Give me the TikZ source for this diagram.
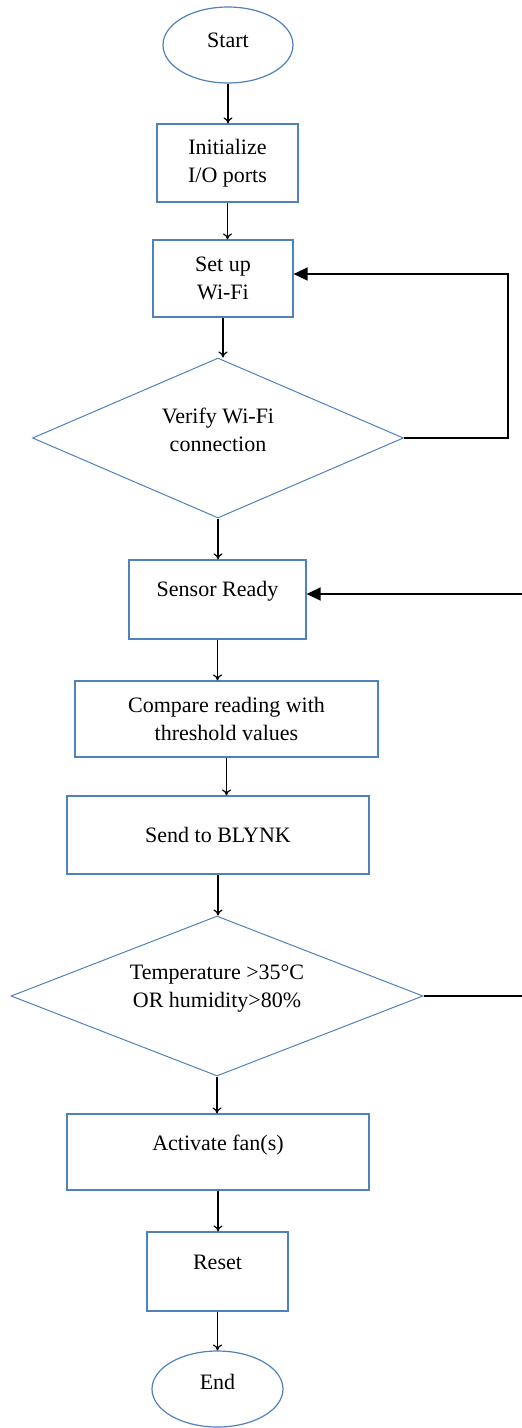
\documentclass[tikz,border=0pt]{standalone}
\usepackage{fontspec}
\setmainfont{Liberation Serif}
\usetikzlibrary{shapes.geometric,arrows.meta}
\definecolor{wordblue}{RGB}{79,129,189}

\begin{document}
\begin{tikzpicture}[x=1pt,y=-1pt,
    every node/.style={font=\fontsize{22}{28}\selectfont, align=center, inner sep=0pt},
    term/.style={ellipse, draw=wordblue, line width=1.2pt, minimum width=130pt, minimum height=76pt},
    proc/.style={rectangle, draw=wordblue, line width=1.2pt, minimum height=78pt},
    deci/.style={diamond, draw=wordblue, line width=1pt, minimum height=160pt},
    flow/.style={black, line width=1.2pt, -{To[length=6pt,width=9pt]}},
    back/.style={black, line width=1.5pt, -{Triangle[length=14pt,width=13pt]}}]
  \useasboundingbox (0,0) rectangle (522,1428);
  \clip (0,0) rectangle (522,1428);

  % main column
  \node[term, text depth=10pt] (start) at (228,45) {Start};
  \node[proc, minimum width=141pt] (init) at (227.5,163) {Initialize\\I/O ports};
  \node[proc, minimum width=140pt, minimum height=77pt] (wifi) at (223,278.5) {Set up\\Wi-Fi};
  \node[deci, minimum width=371pt, aspect=2.3, text depth=16pt] (verify) at (218,438) {Verify Wi-Fi\\connection};
  \node[proc, minimum width=177pt, minimum height=79pt, text depth=22pt] (sensor) at (217.5,599.5) {Sensor Ready};
  \node[proc, minimum width=303pt, minimum height=76pt] (compare) at (226.5,719) {Compare reading with\\threshold values};
  \node[proc, minimum width=302pt] (send) at (218,835) {Send to BLYNK};
  \node[deci, minimum width=412pt, aspect=2.6, text depth=19pt] (temp) at (217,996) {Temperature >35°C\\OR humidity>80\%};
  \node[proc, minimum width=302pt, minimum height=76pt, text depth=18pt] (fans) at (218,1152) {Activate fan(s)};
  \node[proc, minimum width=141pt, minimum height=79pt, text depth=19pt] (reset) at (217.5,1271.5) {Reset};
  \node[term, minimum width=131pt, text depth=14pt] (end) at (217.5,1389) {End};

  \foreach \a/\b in {start/init, init/wifi, wifi/verify, verify/sensor, sensor/compare,
                     compare/send, send/temp, temp/fans, fans/reset, reset/end}
    \draw[flow] (\a.south) -- (\a.south |- \b.north);

  % loops back
  \draw[back] (verify.east) -- ++(104,0) |- ([yshift=4.5pt]wifi.east);
  \draw[back] (temp.east) -- ++(120,0) |- ([yshift=5.5pt]sensor.east);
\end{tikzpicture}
\end{document}
